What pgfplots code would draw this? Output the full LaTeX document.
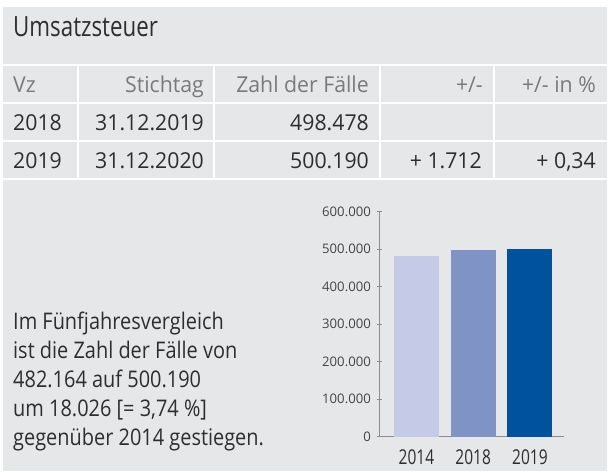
\documentclass[border=0pt]{standalone}
\usepackage{fontspec}
\setmainfont{Open Sans}
\newfontfamily\cond{Open Sans}[FakeStretch=0.8]
\newfontfamily\condb{Open Sans}[FakeStretch=0.87]
\newfontfamily\condx{Open Sans}[FakeStretch=0.76]
\newfontfamily\tabf{Open Sans}[FakeStretch=0.97]
\usepackage{pgfplots}
\pgfplotsset{compat=1.18}
\definecolor{bg}{HTML}{E6E7E9}
\definecolor{txt}{HTML}{2E2E2E}
\definecolor{hdr}{HTML}{7A7A7A}
\definecolor{tick}{HTML}{444444}
\definecolor{axgray}{HTML}{8C8C8C}
\definecolor{cA}{HTML}{C5CBE6}
\definecolor{cB}{HTML}{7F93C6}
\definecolor{cC}{HTML}{00529F}
\newcommand{\tabfont}{\tabf\fontsize{22}{26}\selectfont}
\newcommand{\bodyfont}{\condb\fontsize{23}{27}\selectfont}

\begin{document}
\begin{tikzpicture}
\begin{scope}[x=1bp,y=-1bp]
  % page and panel
  \fill[white] (0,0) rectangle (613,473);
  \fill[bg] (3,7) rectangle (607,471);
  \foreach \ry in {65,103.2,141.2,179}
    \fill[white] (3,\ry-1) rectangle (607,\ry+1);
  \foreach \cx in {78,214,380,494}
    \fill[white] (\cx-0.8,66) rectangle (\cx+0.8,178);
  % title
  \node[anchor=base west,inner sep=0,text=txt,font=\cond\fontsize{28}{32}\selectfont] at (13,37) {Umsatzsteuer};
  % table header
  \begin{scope}[every node/.style={inner sep=0,font=\tabfont,text=hdr}]
    \node[anchor=base west] at (13,93) {Vz};
    \node[anchor=base east] at (204,93) {Stichtag};
    \node[anchor=base east] at (369,93) {Zahl der Fälle};
    \node[anchor=base east] at (483,93) {+/-};
    \node[anchor=base east] at (596,93) {+/- in \%};
  \end{scope}
  % table rows
  \begin{scope}[every node/.style={inner sep=0,font=\tabfont,text=txt}]
    \node[anchor=base west] at (13,131) {2018};
    \node[anchor=base east] at (204,131) {31.12.2019};
    \node[anchor=base east] at (369,131) {498.478};
    \node[anchor=base west] at (13,169) {2019};
    \node[anchor=base east] at (204,169) {31.12.2020};
    \node[anchor=base east] at (369,169) {500.190};
    \node[anchor=base east] at (482,169) {+ 1.712};
    \node[anchor=base east] at (596,169) {+ 0,34};
  \end{scope}
  % comment text
  \begin{scope}[every node/.style={inner sep=0,font=\bodyfont,text=txt,anchor=base west}]
    \node at (13,329.5) {Im Fünfjahresvergleich};
    \node at (13,358.5) {ist die Zahl der Fälle von};
    \node at (13,387.5) {482.164 auf 500.190};
    \node at (13,416.3) {um 18.026 [= 3,74 \%]};
    \node at (13,445.2) {gegenüber 2014 gestiegen.};
  \end{scope}
\end{scope}

\begin{axis}[
    at={(379bp,-436.7bp)}, anchor=south west,
    scale only axis, width=185bp, height=225bp,
    xmin=-0.66, xmax=2.6, ymin=0, ymax=600000,
    axis x line=bottom, axis y line=left,
    axis line style={draw=axgray, line width=0.8pt, -},
    ytick={0,100000,200000,300000,400000,500000,600000},
    yticklabels={0,100.000,200.000,300.000,400.000,500.000,600.000},
    xtick={0,1,2}, xticklabels={2014,2018,2019},
    scaled y ticks=false,
    major tick length=5bp,
    ytick align=center,
    ytick style={draw=axgray, line width=0.8pt},
    xtick style={draw=none},
    yticklabel style={font=\fontsize{13.2}{15}\selectfont, text=tick, inner sep=0pt, xshift=-5.5bp},
    xticklabel style={font=\condx\fontsize{20.5}{23}\selectfont, text=txt, inner sep=0pt, yshift=-8bp},
    ybar, bar width=45bp, bar shift=0pt,
  ]
  \addplot[fill=cA, draw=none] coordinates {(0,482164)};
  \addplot[fill=cB, draw=none] coordinates {(1,498478)};
  \addplot[fill=cC, draw=none] coordinates {(2,500190)};
\end{axis}
\end{tikzpicture}
\end{document}
